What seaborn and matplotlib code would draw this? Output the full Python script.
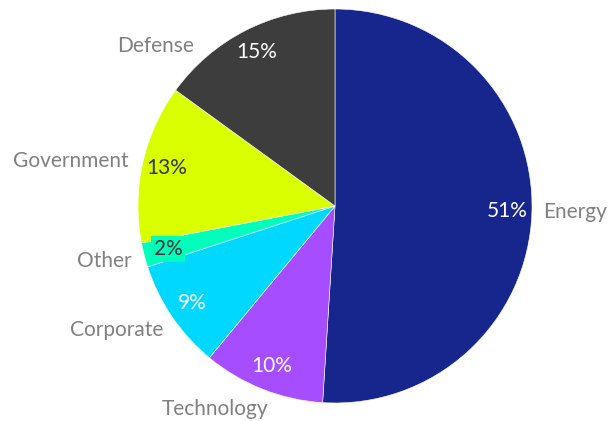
import matplotlib
matplotlib.use("Agg")
import matplotlib.pyplot as plt
import seaborn as sns

sns.set_theme(style="white")
plt.rcParams['font.family'] = ['Lato', 'DejaVu Sans']

categories = ["Energy", "Technology", "Corporate", "Other", "Government", "Defense"]
values = [51, 10, 9, 2, 13, 15]
colors = ["#17268C", "#A64DFF", "#00D8FF", "#00FFBA", "#DAFF00", "#3D3D3D"]
pct_colors = ["white", "white", "white", "#333333", "#333333", "white"]

# outside label anchors (data units of the pie, radius 1), baseline aligned
label_pos = [(1.056, -0.061, "left"), (-0.340, -1.061, "right"), (-0.873, -0.660, "right"),
             (-1.030, -0.310, "right"), (-1.048, 0.198, "right"), (-0.716, 0.782, "right")]

fig = plt.figure(figsize=(6.13, 4.21), dpi=100)
ax = fig.add_axes([0, 0, 1, 1])
wedges, texts, autotexts = ax.pie(
    values, labels=categories, colors=colors, startangle=90, counterclock=False,
    autopct=lambda p: f"{p:.0f}%", pctdistance=0.875, labeldistance=1.06,
    wedgeprops=dict(edgecolor="white", linewidth=0.4),
    textprops=dict(fontsize=15))
for t, (x, y, ha) in zip(texts, label_pos):
    t.set_color("#808080")
    t.set_position((x, y))
    t.set_ha(ha)
    t.set_va("baseline")
for t, c in zip(autotexts, pct_colors):
    t.set_color(c)
for t, cat, col in zip(autotexts, categories, colors):
    if cat == "Other":
        t.set_bbox(dict(facecolor=col, edgecolor="none", pad=2))
ax.set_aspect("auto")
ax.set_xlim(-335 / 197, (613 - 335) / 197)
ax.set_ylim(-215 / 197, 206 / 197)
ax.axis("off")
fig.savefig("out.png", dpi=100)
